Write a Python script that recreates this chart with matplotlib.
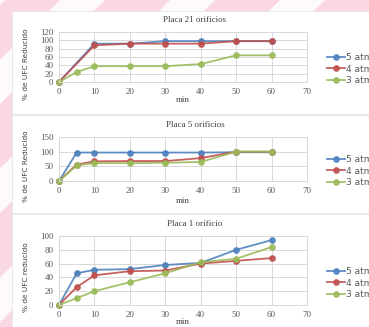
import matplotlib
matplotlib.use('Agg')
import matplotlib.pyplot as plt
from matplotlib.patches import Rectangle, Polygon

# data
minutes = [0, 5, 10, 20, 30, 40, 50, 60]
labels = ['5 atm', '4 atm', '3 atm']

p21_5 = [0, None, 92, 92, 98, 98, 98, 98]
p21_4 = [0, None, 88, 92, 92, 92, 98, 98]
p21_3 = [0, 24, 38, 38, 38, 43, 64, 64]

p5_5 = [0, 97, 97, 97, 97, 97, 98, 98]
p5_4 = [0, 56, 67, 68, 68, 78, 100, 100]
p5_3 = [0, 53, 61, 61, 62, 65, 100, 100]

p1_5 = [0, 46, 51, 52, 58, 61, 80, 94]
p1_4 = [0, 26, 43, 49, 50, 60, 64, 68]
p1_3 = [0, 10, 20, 33, 46, 62, 67, 84]

titles = ['Placa 21 orificios', 'Placa 5 orificios', 'Placa 1 orificio']
ylabels = ['% de UFC Reducido', '% de UFC Reducido', '% de UFC reducido']
yticks = [[0, 20, 40, 60, 80, 100, 120], [0, 50, 100, 150], [0, 20, 40, 60, 80, 100]]
xticks = [0, 10, 20, 30, 40, 50, 60, 70]

colors = ['#4f81bd', '#c0504d', '#9bbb59']
W, H = 369, 327

fig = plt.figure(figsize=(W / 100, H / 100), dpi=100)
fig.patch.set_facecolor('#f9d7e5')

# white diagonal stripes of the page background
for x0 in [-40, 60, 170, 280]:
    fig.patches.append(Polygon([(x0 / W, 1), ((x0 + 45) / W, 1), ((x0 + 45 - 330) / W, 0), ((x0 - 330) / W, 0)],
                               closed=True, transform=fig.transFigure, facecolor='white',
                               edgecolor='none', alpha=0.9, zorder=-2))

# white chart panels (top, bottom in px)
panels = [(11, 114), (115, 213), (214, 327)]
for top, bot in panels:
    fig.patches.append(Rectangle((12 / W, 1 - bot / H), (W - 12) / W, (bot - top) / H,
                                 transform=fig.transFigure, facecolor='white',
                                 edgecolor='#e6e6e6', lw=0.6, zorder=-1))

# axes (top, bottom in px)
axes_px = [(32, 82), (137, 181), (236, 305)]
title_y = [20, 125, 224]
min_y = [100, 201, 322]
leg_y = [69, 171, 283]
series = [(p21_5, p21_4, p21_3), (p5_5, p5_4, p5_3), (p1_5, p1_4, p1_3)]

serif = 'Liberation Serif'
for i in range(3):
    top, bot = axes_px[i]
    ax = fig.add_axes([59 / W, 1 - bot / H, 248 / W, (bot - top) / H])
    ax.set_zorder(2)
    ax.set_facecolor('white')
    for vals, c, lab in zip(series[i], colors, labels):
        xs = [m for m, v in zip(minutes, vals) if v is not None]
        ys = [v for v in vals if v is not None]
        ax.plot(xs, ys, color=c, lw=1.3, marker='o', ms=3.8, label=lab, alpha=0.9,
                clip_on=False)
    ax.set_xlim(0, 70)
    ax.set_ylim(yticks[i][0], yticks[i][-1])
    ax.set_xticks(xticks)
    ax.set_yticks(yticks[i])
    ax.grid(True, color='#d9d9d9', lw=0.7)
    ax.set_axisbelow(True)
    for s in ax.spines.values():
        s.set_color('#d9d9d9')
        s.set_linewidth(0.7)
    ax.tick_params(length=0, labelsize=6.5, labelcolor='#595959', pad=4)
    for t in ax.get_xticklabels() + ax.get_yticklabels():
        t.set_fontfamily(serif)
    fig.text(195 / W, 1 - title_y[i] / H, titles[i], ha='center', va='center',
             fontsize=6.5, family=serif, color='#404040')
    fig.text(183 / W, 1 - min_y[i] / H, 'min', ha='center', va='center',
             fontsize=6.5, family=serif, color='#404040')
    fig.text(26 / W, 1 - (top + bot + 14) / 2 / H, ylabels[i], ha='center', va='center',
             rotation=90, fontsize=5.3, color='#404040')
    ax.legend(loc='center left', bbox_to_anchor=(323 / W, 1 - leg_y[i] / H),
              bbox_transform=fig.transFigure, frameon=False, fontsize=6.5,
              handlelength=2.0, labelspacing=0.25, handletextpad=0.2,
              borderaxespad=0, labelcolor='#595959')

fig.savefig('out.png', dpi=100, facecolor=fig.get_facecolor())
